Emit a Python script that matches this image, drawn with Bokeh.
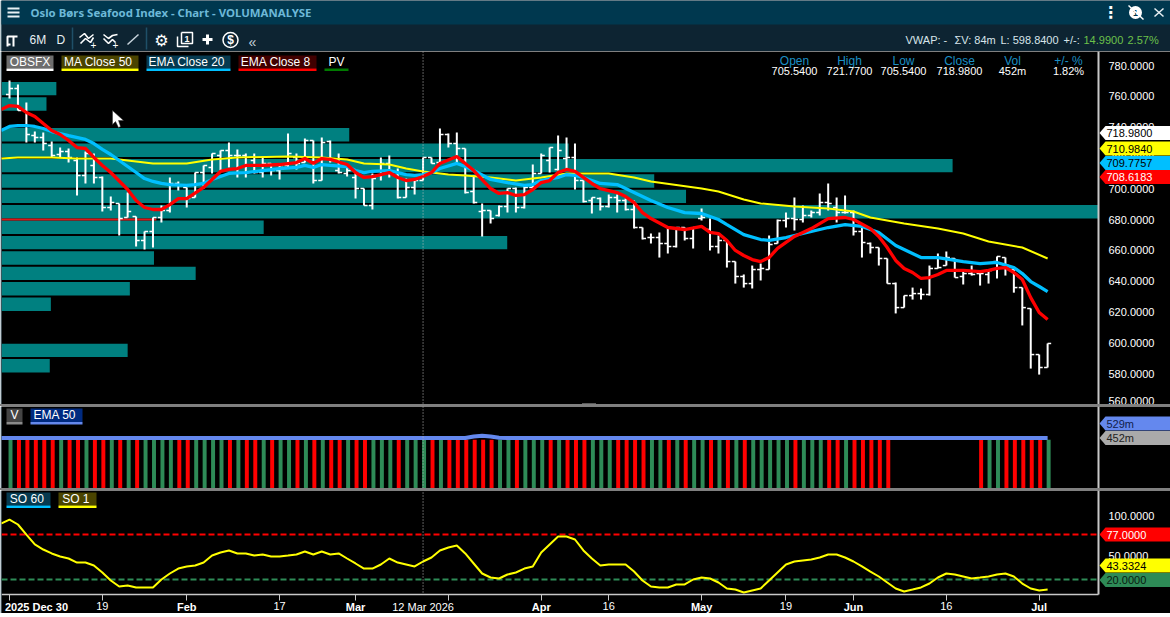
from bokeh.plotting import figure
from bokeh.embed import file_html
from bokeh.resources import INLINE
from bokeh.core.properties import value
from bokeh.layouts import column
from bokeh.models import Range1d, LinearAxis, FixedTicker, NumeralTickFormatter, Span, Div

# ---------------- data ----------------
opens = [761.2,765,750.8,734.5,733.2,728,722.2,724.2,718.3,708.6,715.1,707.3,687.8,690.4,681.3,681.9,666.4,672.2,681.3,685.8,
 703.4,700.8,694.3,710.5,713.8,721.6,724.8,721.6,721.6,718.3,710.5,716.4,711.8,715.1,720.3,717,731.3,705.3,730.6,711.8,
 709.9,707.3,700.1,689.1,708.6,716.4,708.6,694.3,700.8,705.3,720.3,717,735.2,729.3,726.1,698.2,685.2,685.8,682.6,688.4,
 700.1,687.8,700.8,709.9,718.3,712.5,719.6,720.3,705.3,692.3,693.6,688.4,694.3,692.3,686.5,674.8,668.3,668.3,664.4,662.5,
 674.8,667.7,680.6,673.5,662.5,666.4,652.7,643,638.4,647.5,647.5,664.4,679.3,680.6,680,682.6,684.5,691,687.8,684.5,
 684.5,672.2,664.4,661.8,654.7,638.4,622.8,630.6,631.9,631.3,648.2,650.1,654.7,643,644.9,644.9,644.3,652.7,655.3,647.5,
 635.8,622.2,592.3,583.9]
highs = [770.3,767.7,756,737.1,736.5,730.6,726.7,726.1,720.3,724.2,722.9,707.9,694.9,690.4,697.5,681.9,672.2,681.3,689.1,707.3,
 704.7,700.8,710.5,715.1,722.9,724.8,730,725.5,722.9,722.9,720.9,716.4,716.4,735.8,722.9,732.6,731.3,733.2,731.3,722.9,
 713.8,711.8,700.1,709.9,720.3,721.6,713.1,706.6,705.3,720.3,720.3,739.1,735.8,736.5,726.1,708.6,690.4,685.8,689.1,700.1,
 700.8,702.1,715.7,722.9,726.7,734.5,733.2,729.3,705.3,694.3,694.3,696.2,696.2,693.6,692.3,674.8,670.9,671.6,674.8,674.8,
 674.8,674.8,687.1,680.6,669.6,666.4,652.7,644.3,650.1,651.4,669.6,680,684.5,694.3,689.1,685.8,696.9,703.4,694.3,695.6,
 685.8,676.1,665.1,661.8,654.7,639.1,630.6,635.8,635.2,650.1,657.9,659.2,654.7,646.9,650.1,645.6,646.9,656,655.3,648.2,
 635.8,622.2,592.3,599.5]
lows = [758.6,750.8,730,730,724.8,720.3,720.3,717,695.6,703.4,703.4,685.2,685.8,669.6,681.3,662.5,660.5,661.8,678,684.5,
 698.8,687.8,694.3,700.1,709.9,711.8,713.8,707.3,707.3,709.9,707.3,708.6,706,713.1,712.5,717,703.4,705.3,717,709.9,
 707.9,693.6,689.1,686.5,705.3,707.3,693.6,694.3,696.2,705.3,716.4,716.4,726.7,716.4,696.9,690.4,669,677.4,681.9,684.5,
 684.5,687.1,700.1,709.9,710.5,711.8,712.5,699.5,691,683.9,685.8,687.8,684.5,685.8,674.1,667,664.4,655.3,657.9,661.8,
 666.4,661.2,679.3,659.9,657.9,648.8,638.4,635.8,635.2,640.4,647.5,664.4,674.8,672.8,678,681.3,682.6,685.8,678,683.9,
 669.6,655.3,657.9,650.1,638.4,619,622.8,628,628,630.6,648.2,650.1,642.3,637.8,643.6,637.1,638.4,641.7,643.6,632.5,
 611.2,583.2,579.3,583.9]
closes = [765,750.8,735.2,733.2,729.3,721.6,724.2,720.3,708.6,722.9,707.3,687.8,691,680.6,685.2,666.4,672.2,681.3,685.8,703.4,
 702.1,693.6,710.5,715.1,722.9,724.8,721.6,721.6,710.5,710.5,716.4,711.8,715.1,722.9,716.4,731.3,705.3,730,718.3,710.5,
 711.8,700.1,689.1,706.6,716.4,709.9,694.3,700.8,705.3,720.3,716.4,735.2,729.3,726.1,697.5,691,685.8,680.6,688.4,700.1,
 687.8,700.8,709.9,721.6,726.7,724.8,720.3,705.3,691.7,694.3,688.4,694.3,692.3,686.5,674.8,667.7,668.3,664.4,662.5,674.8,
 667.7,674.8,681.3,662.5,666.4,652.7,643,638.4,647.5,648.2,663.8,679.3,680.6,680,682.6,684.5,691,690.4,684.5,684.5,
 672.2,665.1,661.8,654.7,638.4,622.8,630.6,631.9,631.3,648.2,648.8,655.3,642.3,644.9,644.3,644.9,646.9,656,650.1,635.8,
 622.8,592.3,583.9,599.5]

ema8_idx = [-1,0,1,2,3,4,5,6,7,8,9,10,11,12,14,15,16,17,18,19,20,21,23,25,26,27,28,30,32,34,35,36,37,38,40,41,42,43,45,46,47,48,49,50,51,53,55,57,58,59,60,61,62,63,64,65,66,67,68,69,70,72,73,74,75,76,78,80,82,83,84,85,86,87,88,89,90,91,93,95,97,99,100,102,103,104,105,106,107,108,109,110,111,112,113,115,116,117,118,119,120,121,122,123]
ema8 = [751.4,754,753.4,749.5,746.9,742.3,737.8,735.2,731.3,726.7,726.1,720.3,715.1,710.5,699.5,692.3,687.8,686.5,686.5,689.7,693.6,693.6,700.8,711.2,712.5,713.1,715.1,715.1,715.7,717,719.6,716.4,719.6,719,715.7,710.5,707.3,707.9,710.5,707.3,705.3,706,707.9,710.5,716.4,720.9,711.8,700.1,696.9,697.5,695.6,696.2,699.5,704,705.3,710.5,712.5,711.2,707.3,703.4,700.1,697.5,694.9,691,684.5,680.6,674.8,673.5,675.5,671.6,670.9,666.4,659.9,656.6,654,652.7,655.3,661.2,669,674.1,680.6,681.3,680,674.1,669,661.8,653.4,648.2,645.6,641.7,642.3,644.3,646.9,646.9,646.9,646.2,646.9,648.2,648.8,645.6,641,629.3,619.6,615]
ema20_idx = [-1,0,1,2,3,4,5,7,9,10,11,12,13,14,15,16,17,18,19,21,22,23,24,25,26,28,30,32,34,35,36,37,38,40,41,42,43,45,46,47,48,49,50,51,53,54,55,57,59,61,62,63,65,66,67,68,70,72,74,76,78,80,82,84,85,87,89,90,92,94,97,99,101,103,105,108,110,113,115,117,119,120,121,122,123]
ema20 = [737.8,740.4,741,741,740.4,739.1,737.1,734.5,732,729.3,725.5,722.2,718.3,714.4,710.5,706.6,704.7,703.4,702.7,702.1,702.7,703.4,706,707.9,709.9,710.5,711.8,713.1,713.8,715.1,713.8,715.7,715.1,714.4,711.8,710.5,711.2,711.8,710.5,709.2,708.6,709.2,710.5,713.1,716.4,714.4,711.8,706,704,702.1,702.7,705.3,707.3,709.2,708.6,707.3,703.4,702.7,697.5,692.3,687.8,684.5,683.9,680,676.7,670.2,667,666.4,668.3,670.9,674.8,676.7,675.5,671.6,663.1,655.3,655.3,652.7,651.4,652.1,648.8,644.9,639.7,636.5,633.2]
ma50_idx = [-1,1,5,8,12,15,17,21,24,27,33,37,40,42,45,47,49,52,54,57,60,63,66,71,74,76,82,84,87,89,93,97,100,102,106,110,113,116,120,123]
ma50 = [719.6,720.3,720.3,719.6,719.6,717.7,716.4,716.4,719,720.3,720.9,720.3,719,716.4,715.7,713.1,711.2,709.2,708.6,707.3,705.3,707.3,709.9,709.9,707.3,704.7,700.1,698.2,693,690.4,688.4,687.1,685.2,681.3,677.4,674.1,670.9,665.7,661.8,654.7]

pv_price = [765,755,735,725,715,705,695,685,675,665,655,645,635,625,595,585]
pv_share = [5.0,4.1,31.7,51.7,86.7,59.5,62.4,100,23.9,46.1,13.9,17.7,11.7,4.5,11.5,4.4]

bar_dir = list("GRRRRRGRRGRRGRGRGGGGRRGGGGRGRRGRGGRGRGRRGRRGGGR"
               "GGGRGRRRRRRGGRGGGRGRRRGGGRRRRGGRGRGGRGRGRGGGGGR"
               "GGGRRGRRRRR"
               "----------"
               "RGGRRRRRG")[:124]
volume_m = [510,510,510,510,510,510,510,510,510,510,510,510,510,510,510,510,510,510,510,510,510,510,510,510,510,
 510,510,510,510,510,510,510,510,510,510,510,510,510,510,510,510,510,510,510,510,510,510,510,510,510,
 510,510,510,510,510,510,510,510,510,510,510,510,510,510,510,510,510,510,510,510,510,510,510,510,510,
 510,510,510,510,510,510,510,510,510,510,510,510,510,510,510,510,510,510,510,510,510,510,510,510,510,
 510,510,510,510,510,0,0,0,0,0,0,0,0,0,0,510,510,510,510,510,510,510,510,510]
vema_idx = [-1,54,55,56,57,58,59,123]
vema = [529,529,545,552,545,532,529,529]

so1_start = 91
so1 = [96,89.7,77,64.4,58,53,49.2,46.6,41.5,41.5,37.7,28.9,18.7,11.1,12.4,9.9,9.9,9.9,20,27.6,33.9,36.5,37.7,41.5,50.4,54.2,56.8,53,53,50.4,
 51.7,49.2,49.2,50.4,51.7,55.5,51.7,55.5,51.7,53,46.6,40.3,33.9,33.9,39,46.6,41.5,39,36.5,42.8,47.9,56.8,60.6,63.1,53,40.3,27.6,22.5,21.3,26.3,
 28.9,33.9,36.5,54.2,64.4,74.5,74.5,70.7,56.8,46.6,37.7,39,39,39,30.1,18.7,11.1,9.9,9.9,13.7,13.7,20,22.5,21.3,16.2,8.6,7.3,3.5,6.1,8.6,
 18.7,28.9,39,42.8,44.1,45.3,47.9,51.7,51.7,47.9,42.8,36.5,30.1,23.8,16.2,8.6,4.8,7.3,9.9,14.9,22.5,27.6,26.3,23.8,21.3,22.5,23.8,26.3,27.6,23.8,
 14.9,8.6,6.1,7.3]

price_ticks = [560,580,600,620,640,660,680,700,720,740,760,780]
normal_ticks = {11:"19",32:"17",52:"",71:"16",92:"19",111:"16"}
bold_ticks = {0:"2025 Dec 30",21:"Feb",41:"Mar",63:"Apr",82:"May",100:"Jun",122:"Jul"}
crosshair_idx = 49
crosshair_label = "12 Mar 2026"
title = "Oslo Børs Seafood Index - Chart - VOLUMANALYSE"
hover_heads = ["Open","High","Low","Close","Vol","+/- %"]
hover_vals = ["705.5400","721.7700","705.5400","718.9800","452m","1.82%"]

# ---------------- style ----------------
FONT = "Liberation Sans"
TXT = "11px"
BG = "#000000"
AXC = "#c8c8c8"
UP, DOWN = "#2e8b57", "#ff0000"
TEAL = "#008080"
YEL, CY, RED = "#ffff00", "#00bfff", "#ff0000"
W = 1170
PLOT_R = 1098   # right edge of the plotting area, in page pixels
idx = list(range(len(opens)))

def px2i(px):
    return (px - 9) / 8.44

X0, X1 = px2i(1), px2i(W)

def base(h, yr):
    p = figure(width=W, height=h, x_range=Range1d(X0, X1), y_range=Range1d(*yr), output_backend="svg",
               toolbar_location=None, x_axis_type=None, y_axis_type=None, background_fill_color=BG,
               border_fill_color="#0b3a50", min_border_left=1, min_border_right=0, min_border_top=0,
               min_border_bottom=0, outline_line_color=None)
    p.grid.visible = False
    return p

def right_axis(p, ticks, bounds=None):
    a = LinearAxis(ticker=FixedTicker(ticks=ticks), formatter=NumeralTickFormatter(format="0.0000"),
                   fixed_location=px2i(PLOT_R),
                   axis_line_color=AXC, axis_line_width=2, major_tick_line_color=None, minor_tick_line_color=None,
                   major_label_text_color="#ffffff", major_label_text_font=FONT, major_label_text_font_size=TXT,
                   major_label_standoff=4)
    if bounds:
        a.bounds = bounds
    p.add_layout(a, "right")

def tag(p, ypx, to_y, text, fill, color):
    t, b = ypx - 7, ypx + 7
    p.patch(x=[px2i(v) for v in (1099, 1105, W, W, 1105)], y=[to_y(v) for v in (ypx, t, t, b, b)],
            fill_color=fill, line_color=None, level="overlay")
    p.text(x=[px2i(1106)], y=[to_y(ypx)], text=[text], text_color=color, text_font=value(FONT), text_font_size=TXT,
           text_baseline="middle", text_align="left", level="overlay")

def chip(p, x0, x1, ytop, ybot, to_y, text, fill, under):
    p.quad(left=px2i(x0), right=px2i(x1), top=to_y(ytop), bottom=to_y(ybot), fill_color=fill, line_color=None)
    p.quad(left=px2i(x0), right=px2i(x1), top=to_y(ybot), bottom=to_y(ybot + 2.5), fill_color=under, line_color=None)
    p.text(x=[px2i((x0 + x1) / 2)], y=[to_y((ytop + ybot) / 2)], text=[text], text_color="#ffffff", text_align="center",
           text_baseline="middle", text_font=value(FONT), text_font_size="12px")

# ---------------- header ----------------
H_TOP, H_TOOL = "#00384f", "#0d2432"
hd = figure(width=W, height=51, x_range=Range1d(1, W), y_range=Range1d(51, 0), output_backend="svg",
            toolbar_location=None, x_axis_type=None, y_axis_type=None, background_fill_color=H_TOOL,
            border_fill_color=H_TOP, min_border_left=1, min_border_right=0, min_border_top=0, min_border_bottom=0,
            outline_line_color=None)
hd.grid.visible = False
hd.quad(left=0, right=W, top=0, bottom=24, fill_color=H_TOP, line_color=None)
hd.segment(x0=[7, 7, 7], x1=[19, 19, 19], y0=[8, 12, 16], y1=[8, 12, 16], line_color="#e8f0f4", line_width=2)

def htext(x, y, s, color="#ffffff", size="12px", align="left", font=FONT, style="normal"):
    hd.text(x=[x], y=[y], text=[s], text_color=color, text_font=value(font), text_font_size=size,
            text_align=align, text_baseline="middle", text_font_style=style)

htext(30, 11.5, title, "#6db8d8", "11.4px", font="Noto Sans", style="bold")
hd.segment(x0=[72, 146], x1=[72, 146], y0=[27, 27], y1=[49, 49], line_color="#1f4f68", line_width=1.5)
# toolbar icons
hd.multi_line(xs=[[7, 7, 13, 13], [13, 17], [7, 10]], ys=[[46, 36, 36, 46], [36, 36], [44, 44]], line_color="#ffffff", line_width=2)
htext(29, 39.5, "6M", "#e8f0f4", "12px")
htext(56, 39.5, "D", "#e8f0f4", "12px")
hd.multi_line(xs=[[79, 84, 88, 93], [80, 85, 90, 93]], ys=[[37, 33, 38, 34], [43, 38, 42, 37]], line_color="#ffffff", line_width=1.6)
htext(93, 44, "+", "#ffffff", "10px", "center")
hd.multi_line(xs=[[103, 108, 112, 117], [103, 108, 112, 115]], ys=[[34, 38, 35, 34], [38, 43, 39, 42]], line_color="#ffffff", line_width=1.6)
htext(115, 44, "+", "#ffffff", "10px", "center")
hd.line(x=[127, 138], y=[44, 34], line_color="#c8d4dc", line_width=1.5)
htext(161, 39.5, "⚙", "#ffffff", "16px", "center", font="DejaVu Sans")
hd.multi_line(xs=[[177, 177, 188], [181, 192, 192, 181, 181]], ys=[[36, 46, 46], [32, 32, 43, 43, 32]], line_color="#ffffff", line_width=1.5)
htext(186.5, 38, "1", "#ffffff", "9px", "center", style="bold")
hd.segment(x0=[202, 207], x1=[212, 207], y0=[39, 34], y1=[39, 44], line_color="#ffffff", line_width=3)
htext(230, 39.5, "$", "#ffffff", "12px", "center", style="bold")
hd.scatter(x=[230], y=[39.5], size=15, marker="circle", fill_color=None, line_color="#ffffff", line_width=1.5)
htext(252, 41, "«", "#c8d4dc", "14px", "center")
# window icons
htext(1110, 12, "⋮", "#ffffff", "16px", "center", font="DejaVu Sans", style="bold")
hd.scatter(x=[1135], y=[12], size=13, marker="circle", fill_color="#ffffff", line_color=None)
htext(1135, 12.5, "1", H_TOP, "9px", "center", style="bold")
hd.line(x=[1128, 1143], y=[5, 19], line_color="#ffffff", line_width=1.5)
hd.segment(x0=[1154, 1154], x1=[1163, 1163], y0=[8, 16], y1=[16, 8], line_color="#e8f0f4", line_width=1.5)
# status text
STAT = "#d8e4ea"
htext(905, 39.5, "VWAP: -", STAT, TXT)
htext(954, 39.5, "ΣV: 84m", STAT, TXT)
htext(1000, 39.5, "L: 598.8400", STAT, TXT)
htext(1063, 39.5, "+/-:", STAT, TXT)
htext(1083, 39.5, "14.9900", "#6cc04a", TXT)
htext(1127, 39.5, "2.57%", "#6cc04a", TXT)

# ---------------- price panel ----------------
py = lambda yp: 780 - (yp - 65) / 1.54
price = base(353, (py(404), py(51)))
price.extra_x_ranges["pv"] = Range1d(0, 100 * (W - 1) / (PLOT_R - 1))
price.hbar(y=pv_price, left=0, right=pv_share, height=8.7, x_range_name="pv", fill_color=TEAL, line_color=None)
price.line(x=[X0, 17.4], y=[680, 680], line_color="#e01818", line_width=2)
price.segment(x0=idx, x1=idx, y0=lows, y1=highs, line_color="#ffffff", line_width=2)
price.segment(x0=[i - 0.42 for i in idx], x1=idx, y0=opens, y1=opens, line_color="#ffffff", line_width=1.5)
price.segment(x0=idx, x1=[i + 0.42 for i in idx], y0=closes, y1=closes, line_color="#ffffff", line_width=1.5)
price.line(x=ma50_idx, y=ma50, line_color=YEL, line_width=2)
price.line(x=ema20_idx, y=ema20, line_color=CY, line_width=3.3)
price.line(x=ema8_idx, y=ema8, line_color=RED, line_width=3.3)
price.add_layout(Span(location=crosshair_idx, dimension="height", line_color="#bdbdbd", line_width=1, line_dash="1 2"))
right_axis(price, price_ticks)
chip(price, 6, 53, 55, 68, py, "OBSFX", "#6e6e6e", "#ffffff")
chip(price, 61, 138, 55, 68, py, "MA  Close 50", "#4a4400", YEL)
chip(price, 146, 230, 55, 68, py, "EMA  Close 20", "#063a50", CY)
chip(price, 238, 316, 55, 68, py, "EMA  Close 8", "#400000", RED)
chip(price, 324, 348, 55, 68, py, "PV", "#000000", "#007a00")
for xc, head, val in zip([794, 849, 903, 959, 1012, 1068], hover_heads, hover_vals):
    price.text(x=[px2i(xc)], y=[py(60)], text=[head], text_color="#1b8fc4", text_align="center", text_baseline="middle",
               text_font=value(FONT), text_font_size="12px")
    price.text(x=[px2i(xc)], y=[py(70)], text=[val], text_color="#ffffff", text_align="center", text_baseline="middle",
               text_font=value(FONT), text_font_size=TXT)
# mouse pointer
price.patch(x=[px2i(v) for v in (112, 112, 115, 118, 120, 118, 123)], y=[py(v) for v in (110, 124, 121, 127, 126, 120, 120)],
            fill_color="#ffffff", line_color="#333333", line_width=0.5)
# pane-resize grip
price.segment(x0=[px2i(582)], x1=[px2i(595)], y0=[py(403.3)], y1=[py(403.3)], line_color="#ffffff", line_width=1, line_dash="1 1")
tag(price, 132.5, py, "718.9800", "#ffffff", "#000000")
tag(price, 148, py, "710.9840", YEL, "#000000")
tag(price, 162.5, py, "709.7757", CY, "#000000")
tag(price, 176.5, py, "708.6183", RED, "#ffffff")

# ---------------- volume panel ----------------
vy = lambda yp: (488 - yp) * 10.48
vol = base(82, (0, vy(406)))
vx = [i + 0.12 for i in idx]
colors = [UP if d == "G" else DOWN for d in bar_dir]
vol.vbar(x=vx, top=volume_m, bottom=0, width=0.47, fill_color=colors, line_color=None)
vol.line(x=vema_idx, y=vema, line_color="#6488ee", line_width=4)
vol.add_layout(Span(location=crosshair_idx, dimension="height", line_color="#bdbdbd", line_width=1, line_dash="1 2"))
right_axis(vol, [])
chip(vol, 6, 22, 408, 421.5, vy, "V", "#444444", "#8a8a8a")
chip(vol, 30, 82, 408, 421.5, vy, "EMA  50", "#002a80", "#6488ee")
tag(vol, 423, vy, "529m", "#6488ee", "#10204a")
tag(vol, 437.5, vy, "452m", "#aaaaaa", "#222222")

# ---------------- stochastic panel ----------------
sy = lambda yp: 20 + (579 - yp) / 0.789
so = base(123, (sy(613), sy(490)))
xr = px2i(PLOT_R)
so.segment(x0=[X0, X0], x1=[xr, xr], y0=[77, 20], y1=[77, 20], line_color=["#ff0000", "#2e8b57"], line_width=2, line_dash="6 3")
so.line(x=[-1] + idx, y=[so1_start] + so1, line_color=YEL, line_width=2)
so.segment(x0=[crosshair_idx], x1=[crosshair_idx], y0=[sy(592)], y1=[sy(490)], line_color="#bdbdbd", line_width=1, line_dash="1 2")
right_axis(so, [50, 100], bounds=(sy(594), sy(490)))
chip(so, 6, 50, 492, 505, sy, "SO  60", "#063a50", CY)
chip(so, 58, 96, 492, 505, sy, "SO  1", "#4a4400", YEL)
xa = LinearAxis(ticker=FixedTicker(ticks=list(normal_ticks) + list(bold_ticks)), fixed_location=sy(593.5), bounds=(X0, xr),
                major_label_overrides={**{int(k): v for k, v in normal_ticks.items()}, **{int(k): "" for k in bold_ticks}},
                axis_line_color=AXC, axis_line_width=1.5, major_tick_line_color=AXC, major_tick_in=0, major_tick_out=6,
                minor_tick_line_color=None, major_label_text_color="#ffffff", major_label_text_font=FONT,
                major_label_text_font_size=TXT, major_label_standoff=2)
so.add_layout(xa, "below")
for i, s in bold_ticks.items():
    px = 36 if i == 0 else 9 + 8.44 * i
    so.text(x=[px2i(px)], y=[sy(606)], text=[s], text_color="#ffffff", text_font=value(FONT), text_font_size=TXT,
            text_font_style="bold", text_align="center", text_baseline="middle")
so.text(x=[crosshair_idx], y=[sy(606)], text=[crosshair_label], text_color="#ffffff", text_font=value(FONT),
        text_font_size=TXT, text_align="center", text_baseline="middle")
tag(so, 534, sy, "77.0000", "#ff0000", "#ffffff")
tag(so, 565, sy, "43.3324", YEL, "#000000")
tag(so, 579.5, sy, "20.0000", "#2e8b57", "#0a1a10")

# ---------------- bottom scrollbar ----------------
sb = figure(width=W, height=4, x_range=Range1d(1, W), y_range=Range1d(0, 1), output_backend="svg", toolbar_location=None,
            x_axis_type=None, y_axis_type=None, background_fill_color="#f0f0f0", border_fill_color="#f0f0f0",
            min_border_left=1, min_border_right=0, min_border_top=0, min_border_bottom=0, outline_line_color=None)
sb.grid.visible = False
sb.quad(left=987, right=W, top=1, bottom=0, fill_color="#b8b8b8", line_color=None)

def rule():
    return Div(text="", width=W, height=2, margin=0, styles={"background-color": "#808080"})

page = column(hd, price, rule(), vol, rule(), so, sb, spacing=0)
open("out.html", "w").write(file_html(page, INLINE))
